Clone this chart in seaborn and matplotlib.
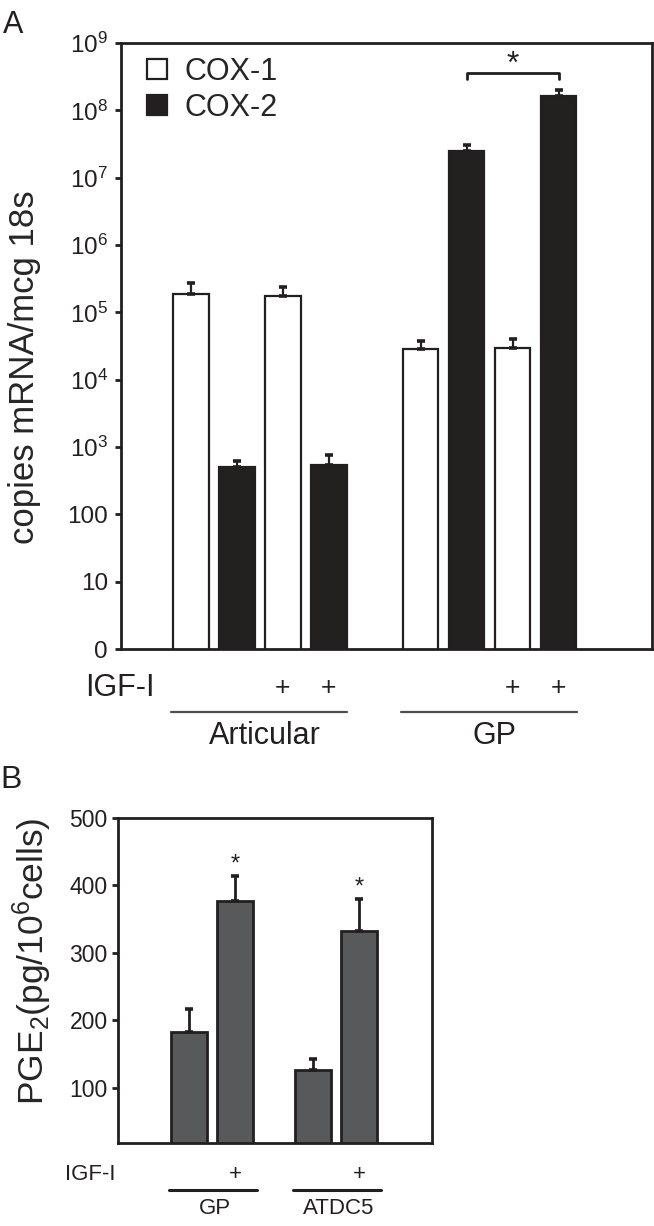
import numpy as np
import pandas as pd
import matplotlib
matplotlib.use("Agg")
import matplotlib.pyplot as plt
import matplotlib.transforms as mtransforms
from matplotlib.lines import Line2D
import seaborn as sns

# ---------------- Panel A data ----------------
bar_ids = ["art_c1", "art_c2", "art_igf_c1", "art_igf_c2",
           "gp_c1", "gp_c2", "gp_igf_c1", "gp_igf_c2"]
slot_order = ["art_c1", "art_c2", "art_igf_c1", "art_igf_c2", "spacer",
              "gp_c1", "gp_c2", "gp_igf_c1", "gp_igf_c2"]
genes = ["COX-1", "COX-2", "COX-1", "COX-2", "COX-1", "COX-2", "COX-1", "COX-2"]
copies = [1.9e5, 5.0e2, 1.75e5, 5.5e2, 2.9e4, 2.5e7, 3.0e4, 1.65e8]
copies_err = [0.8e5, 1.2e2, 0.65e5, 2.1e2, 0.8e4, 0.6e7, 1.0e4, 0.35e8]
igf_a = ["", "", "+", "+", "", "", "+", "+"]
tissue_a = ["Articular", "Articular", "Articular", "Articular", "GP", "GP", "GP", "GP"]
yticks_a = [1, 10, 100, 1e3, 1e4, 1e5, 1e6, 1e7, 1e8, 1e9]
yticklabels_a = ["0", "10", "100", r"$\mathregular{10^3}$", r"$\mathregular{10^4}$",
                 r"$\mathregular{10^5}$", r"$\mathregular{10^6}$", r"$\mathregular{10^7}$",
                 r"$\mathregular{10^8}$", r"$\mathregular{10^9}$"]

# ---------------- Panel B data ----------------
cells = ["GP", "GP", "ATDC5", "ATDC5"]
igf_b = ["-", "+", "-", "+"]
pge2 = [183, 377, 127, 333]
pge2_err = [34, 37, 16, 47]
yticks_b = [100, 200, 300, 400, 500]

dfa = pd.DataFrame({"bar": bar_ids, "gene": genes, "copies": copies,
                    "err": copies_err, "igf": igf_a, "tissue": tissue_a})
dfb = pd.DataFrame({"cell": cells, "igf": igf_b, "pge2": pge2, "err": pge2_err})

sns.set_style("ticks")
plt.rcParams["font.family"] = ["Liberation Sans", "DejaVu Sans"]
plt.rcParams["mathtext.fontset"] = "custom"
plt.rcParams["mathtext.rm"] = "Liberation Sans"
plt.rcParams["mathtext.it"] = "Liberation Sans:italic"
plt.rcParams["mathtext.bf"] = "Liberation Sans:bold"

ink = "#231f20"
fig = plt.figure(figsize=(6.54, 12.26), dpi=100)
fig.patch.set_facecolor("white")

# ================= Panel A =================
axA = fig.add_axes([0.185, 0.4706, 0.812, 0.4943])
sns.barplot(data=dfa, x="bar", y="copies", hue="gene", order=slot_order,
            palette={"COX-1": "white", "COX-2": ink}, dodge=False, width=0.77,
            edgecolor=ink, linewidth=1.6, errorbar=None, legend=False, ax=axA)
axA.set_yscale("log")
axA.set_ylim(1, 1e9)
axA.set_xlim(-1.52, 10.03)
axA.set_yticks(yticks_a)
axA.set_yticklabels(yticklabels_a, fontsize=17.5)
axA.yaxis.set_minor_locator(matplotlib.ticker.NullLocator())
axA.set_xticks([])
axA.set_xlabel("")
axA.set_ylabel("copies mRNA/mcg 18s", fontsize=25)
axA.yaxis.set_label_coords(-0.15, 0.465)
for s in axA.spines.values():
    s.set_visible(True)
    s.set_linewidth(2)
    s.set_color(ink)
axA.tick_params(axis="y", length=4.5, width=2, pad=5, color=ink, labelcolor=ink)

pos_a = {b: slot_order.index(b) for b in bar_ids}
for _, r in dfa.iterrows():
    axA.errorbar(pos_a[r["bar"]], r["copies"], yerr=[[0], [r["err"]]], fmt="none",
                 ecolor=ink, elinewidth=1.6, capsize=2.9, capthick=2.6, zorder=1)

# legend
handles = [Line2D([], [], marker="s", ls="none", markersize=14, markerfacecolor="white",
                  markeredgecolor=ink, markeredgewidth=1.6),
           Line2D([], [], marker="s", ls="none", markersize=14, markerfacecolor=ink,
                  markeredgecolor=ink, markeredgewidth=1.6)]
axA.legend(handles, ["COX-1", "COX-2"], loc="upper left", bbox_to_anchor=(0.045, 0.977),
           frameon=False, fontsize=22, handlelength=0.8, handletextpad=0.5,
           labelspacing=0.2, borderpad=0, borderaxespad=0)

# significance bracket over GP COX-2 bars
gp2 = dfa[dfa["gene"] == "COX-2"].iloc[2:]
x1, x2 = pos_a[gp2["bar"].iloc[0]], pos_a[gp2["bar"].iloc[1]]
top = (gp2["copies"] + gp2["err"]).max()
axA.plot([x1, x1, x2, x2], [top * 1.45, top * 1.8, top * 1.8, top * 1.45],
         color=ink, lw=2, clip_on=False)
axA.annotate("*", ((x1 + x2) / 2, top * 1.8), xytext=(0, 6), textcoords="offset points",
             ha="center", va="center", fontsize=23, color=ink)

blendA = mtransforms.blended_transform_factory(axA.transData, axA.transAxes)
axA.text(-0.068, -0.064, "IGF-I", transform=axA.transAxes, ha="left", va="center",
         fontsize=22, color=ink)
for _, r in dfa.iterrows():
    if r["igf"]:
        axA.text(pos_a[r["bar"]], -0.064, r["igf"], transform=blendA, ha="center",
                 va="center", fontsize=19, color=ink)
for t in tissue_a[::4]:
    xs = [pos_a[b] for b in dfa.loc[dfa["tissue"] == t, "bar"]]
    axA.plot([min(xs) - 0.44, max(xs) + 0.4], [-0.104, -0.104], transform=blendA,
             color="#4d4d4d", lw=1.6, clip_on=False)
    axA.text((min(xs) + max(xs)) / 2 + 0.1, -0.143, t, transform=blendA, ha="center",
             va="center", fontsize=22, color=ink)

fig.text(0.005, 0.992, "A", fontsize=22, ha="left", va="top", color=ink)

# ================= Panel B =================
axB = fig.add_axes([0.1804, 0.0677, 0.4802, 0.2651])
sns.barplot(data=dfb, x="cell", y="pge2", hue="igf", order=["GP", "ATDC5"],
            hue_order=["-", "+"], palette={"-": "#58595b", "+": "#58595b"},
            width=0.74, gap=0.22, edgecolor=ink, linewidth=2, errorbar=None,
            legend=False, ax=axB)
axB.set_ylim(18, 500)
axB.set_xlim(-0.757, 1.771)
axB.set_yticks(yticks_b)
axB.set_yticklabels([str(v) for v in yticks_b], fontsize=16.5)
axB.set_xticks([])
axB.set_xlabel("")
axB.set_ylabel(r"PGE$_\mathregular{2}$(pg/10$^\mathregular{6}$cells)", fontsize=25.5)
axB.yaxis.set_label_coords(-0.205, 0.56)
for s in axB.spines.values():
    s.set_visible(True)
    s.set_linewidth(2)
    s.set_color(ink)
axB.tick_params(axis="y", length=4.5, width=2, pad=3, color=ink, labelcolor=ink)

blendB = mtransforms.blended_transform_factory(axB.transData, axB.transAxes)
for p in axB.patches:
    h = p.get_height()
    if not np.isfinite(h) or h <= 0:
        continue
    row = dfb[np.isclose(dfb["pge2"], h)].iloc[0]
    xc = p.get_x() + p.get_width() / 2
    axB.errorbar(xc, h, yerr=[[0], [row["err"]]], fmt="none", ecolor=ink,
                 elinewidth=2, capsize=2.6, capthick=2.6, zorder=1)
    if row["igf"] == "+":
        axB.annotate("*", (xc, h + row["err"]), xytext=(0, 0), textcoords="offset points",
                     ha="center", va="bottom", fontsize=17, color=ink)
        axB.text(xc, -0.098, "+", transform=blendB, ha="center", va="center",
                 fontsize=16, color=ink)

for i, c in enumerate(["GP", "ATDC5"]):
    axB.plot([i - 0.35, i + 0.36], [-0.145, -0.145], transform=blendB, color=ink,
             lw=2.2, clip_on=False)
    axB.text(i + 0.02, -0.2, c, transform=blendB, ha="center", va="center",
             fontsize=16, color=ink)
axB.text(-0.169, -0.098, "IGF-I", transform=axB.transAxes, ha="left", va="center",
         fontsize=16, color=ink)

fig.text(0.0, 0.364, "B", fontsize=23, ha="left", va="center", color=ink)

fig.savefig("out.png", dpi=100, facecolor="white")
